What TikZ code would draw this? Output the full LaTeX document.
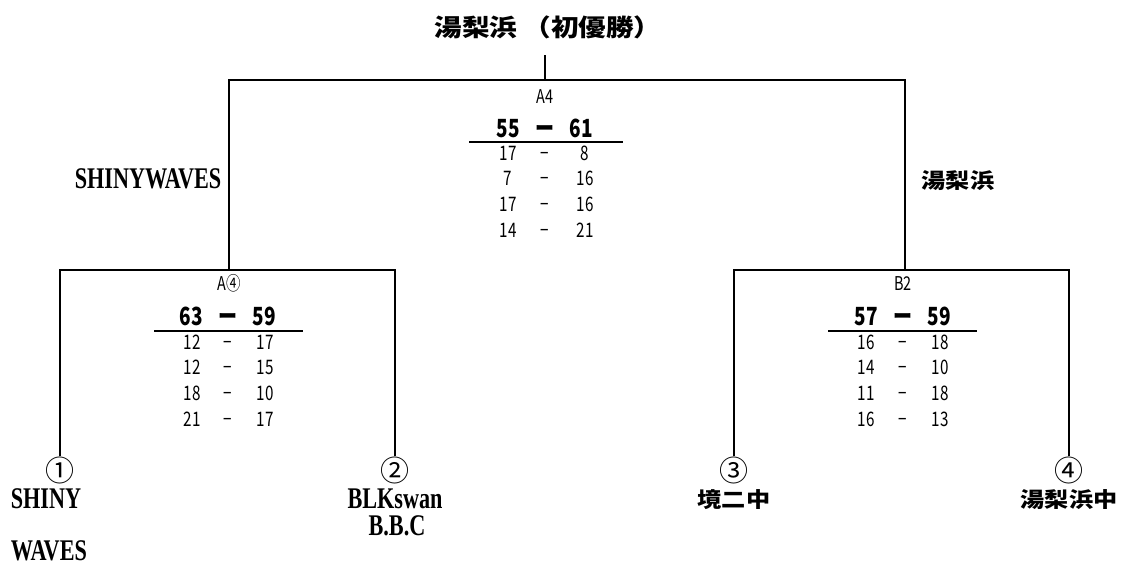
\documentclass[tikz,border=0pt]{standalone}
\usepackage{fontspec}
\setmainfont{Liberation Serif}
\newfontfamily\jp{Noto Sans CJK JP}
\newfontfamily\jpwide[FakeStretch=1.15]{Noto Sans CJK JP}
\newfontfamily\narrow[FakeStretch=0.76]{Noto Sans CJK JP}
\newfontfamily\teamfont[FakeStretch=0.74]{Liberation Serif}

\begin{document}
\begin{tikzpicture}[x=1pt, y=-1pt, line width=1.6pt,
    every node/.style={inner sep=0pt},
    champion/.style={font=\jpwide\bfseries\fontsize{24}{24}\selectfont},
    jname/.style={font=\jpwide\bfseries\fontsize{21}{21}\selectfont},
    ename/.style={font=\teamfont\bfseries\fontsize{30}{27}\selectfont, anchor=base},
    seed/.style={font=\jp\fontsize{29}{29}\selectfont},
    gamelabel/.style={font=\narrow\fontsize{19}{19}\selectfont, anchor=base},
    total/.style={font=\narrow\bfseries\fontsize{25}{25}\selectfont, anchor=base},
    setscore/.style={font=\narrow\fontsize{20}{20}\selectfont, anchor=base}]
    \useasboundingbox (0,0) rectangle (1123,563);

    \node[champion] (champ) at (548,27) {湯梨浜 （初優勝）};
    \coordinate (top) at (545,55);
    \coordinate (fin) at (545,80);
    \coordinate (semiA) at (229,270);
    \coordinate (semiB) at (905,270);
    \draw (top) -- (fin);
    \draw (semiA) -- (semiA |- fin) -- (semiB |- fin) -- (semiB);

    \node[ename] (winA) at (148,188) {SHINYWAVES};
    \node[jname] (winB) at (958,181) {湯梨浜};

    % seeds and teams
    \node[seed] (s1) at (60,470) {①};
    \node[seed] (s2) at (395,470) {②};
    \node[seed] (s3) at (734,470) {③};
    \node[seed] (s4) at (1069,470) {④};
    \node[ename, anchor=base west] (t1) at (10,508) {SHINY};
    \node[ename, anchor=base west] (t1b) at (10,560) {WAVES};
    \node[ename] (t2) at (395,508) {BLKswan};
    \node[ename] (t2b) at (397,535) {B.B.C};
    \node[jname] (t3) at (734,500) {境二中};
    \node[jname] (t4) at (1069,500) {湯梨浜中};

    \draw (s1.north) -- (s1 |- semiA) -- (s2 |- semiA) -- (s2.north);
    \draw (s3.north) -- (s3 |- semiB) -- (s4 |- semiB) -- (s4.north);

    % final A4
    \node[gamelabel] (gF) at (545,103) {A4};
    \node[total] (gFl) at (508,137) {55};
    \node[total] (gFd) at (545,137) {ー};
    \node[total] (gFr) at (581,137) {61};
    \draw[line width=1.3pt] (469,142) coordinate (gFu1) -- (623,142) coordinate (gFu2);
    \foreach \a/\b [count=\i] in {17/8, 7/16, 17/16, 14/21} {
      \node[setscore] at (508,{134.3+25.7*\i}) {\a};
      \node[setscore] at (545,{134.3+25.7*\i}) {−};
      \node[setscore] at (585,{134.3+25.7*\i}) {\b};
    }

    % semifinal A4 (circled)
    \node[gamelabel] (gA) at (229,290) {A④};
    \node[total] (gAl) at (191,325) {63};
    \node[total] (gAd) at (228,325) {ー};
    \node[total] (gAr) at (264,325) {59};
    \draw[line width=1.3pt] (154,331) coordinate (gAu1) -- (303,331) coordinate (gAu2);
    \foreach \a/\b [count=\i] in {12/17, 12/15, 18/10, 21/17} {
      \node[setscore] at (192,{323.3+25.7*\i}) {\a};
      \node[setscore] at (228,{323.3+25.7*\i}) {−};
      \node[setscore] at (265,{323.3+25.7*\i}) {\b};
    }

    % semifinal B2
    \node[gamelabel] (gB) at (903,290) {B2};
    \node[total] (gBl) at (866,325) {57};
    \node[total] (gBd) at (903,325) {ー};
    \node[total] (gBr) at (939,325) {59};
    \draw[line width=1.3pt] (828,331) coordinate (gBu1) -- (977,331) coordinate (gBu2);
    \foreach \a/\b [count=\i] in {16/18, 14/10, 11/18, 16/13} {
      \node[setscore] at (866,{323.3+25.7*\i}) {\a};
      \node[setscore] at (903,{323.3+25.7*\i}) {−};
      \node[setscore] at (940,{323.3+25.7*\i}) {\b};
    }
\end{tikzpicture}
\end{document}
